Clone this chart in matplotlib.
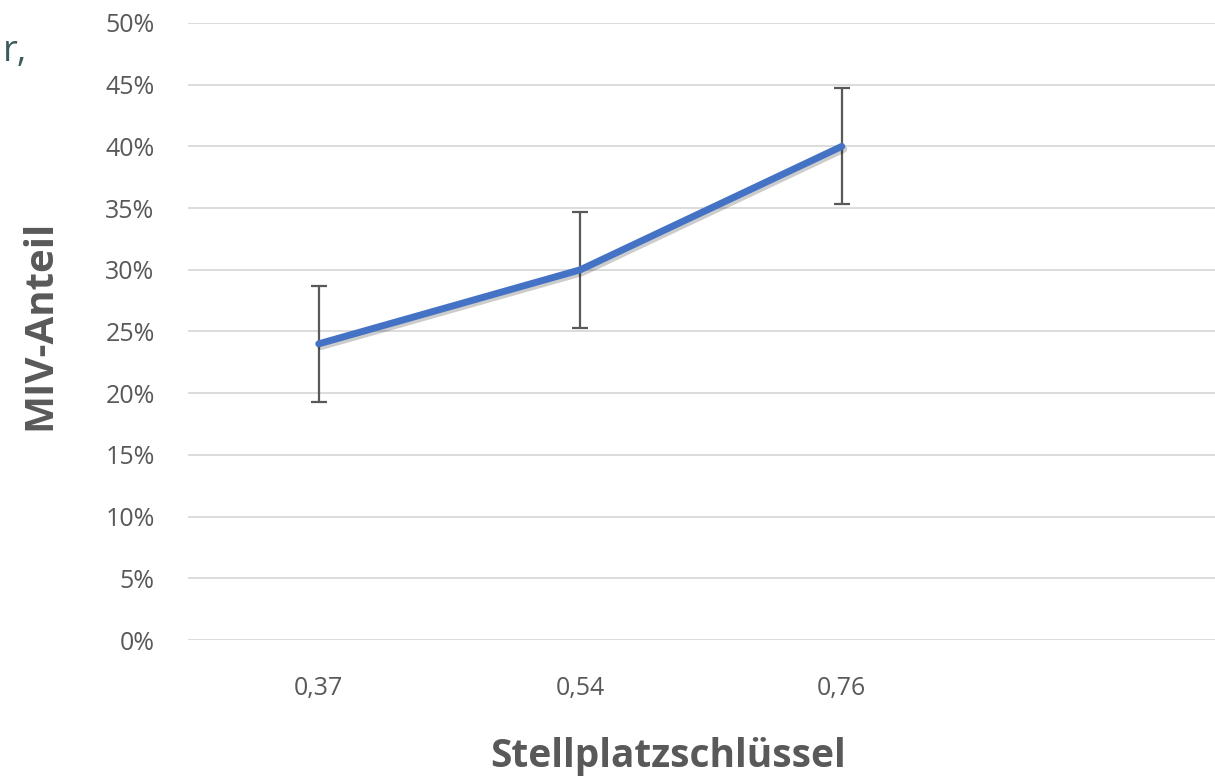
import matplotlib
matplotlib.use("Agg")
import matplotlib.pyplot as plt
import matplotlib.patheffects as pe
from matplotlib.ticker import FuncFormatter, MultipleLocator

# data
categories = ["0,37", "0,54", "0,76"]
miv_share = [0.24, 0.30, 0.40]
error = [0.047, 0.047, 0.047]

TEXT = "#595959"
GRID = "#d9d9d9"
LINE = "#4472c4"

plt.rcParams["font.family"] = ["Open Sans", "DejaVu Sans"]

W, H = 1215, 780
fig = plt.figure(figsize=(W / 100, H / 100), dpi=100)
# plot area: left 188px, bottom at 640px, 50% at 23px, 4 category slots (last one cut off)
ax = fig.add_axes([188 / W, (H - 640) / H, 1046 / W, 617 / H])

x = list(range(len(categories)))
ax.errorbar(x, miv_share, yerr=error, fmt="none", ecolor=TEXT,
            elinewidth=1.6, capsize=6, capthick=1.6, zorder=3)
ax.plot(x, miv_share, color=LINE, linewidth=5, solid_capstyle="round", zorder=4,
        path_effects=[pe.SimpleLineShadow(offset=(1.5, -2), shadow_color="black", alpha=0.2),
                      pe.Normal()])

ax.set_xlim(-0.5, 3.5)
ax.set_ylim(0, 0.5)
ax.yaxis.set_major_locator(MultipleLocator(0.05))
ax.yaxis.set_major_formatter(FuncFormatter(lambda v, p: f"{round(v * 100)}%"))
ax.set_xticks(x)
ax.set_xticklabels(categories)
ax.grid(axis="y", color=GRID, linewidth=1.3)
ax.set_axisbelow(True)
for s in ax.spines.values():
    s.set_visible(False)
ax.tick_params(length=0, labelsize=18, labelcolor=TEXT)
ax.tick_params(axis="x", pad=26)
ax.tick_params(axis="y", pad=24)

fig.text(40 / W, 1 - 325 / H, "MIV-Anteil", fontsize=29, fontweight="bold", color=TEXT,
         rotation=90, ha="center", va="center")
fig.text(668 / W, 1 - 757 / H, "Stellplatzschlüssel", fontsize=28, fontweight="bold",
         color=TEXT, ha="center", va="center")

# cut-off title fragment at the top left
fig.text(3 / W, 1 - 52 / H, "r,", fontsize=26, color="#3e5b5b", ha="left", va="center")

fig.savefig("out.png", dpi=100)
